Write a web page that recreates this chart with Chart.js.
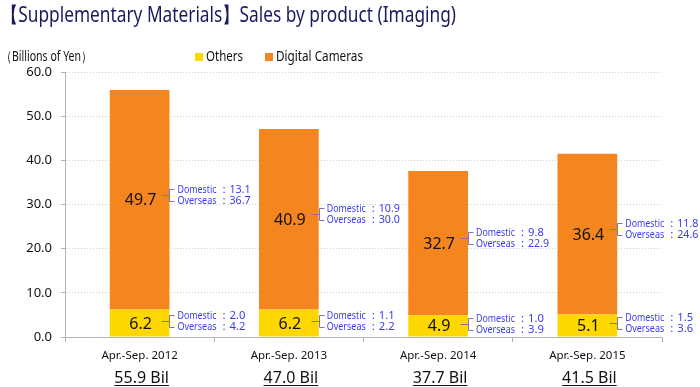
<!DOCTYPE html>
<html>
<head>
<meta charset="utf-8">
<script src="https://cdn.jsdelivr.net/npm/chart.js@4.4.1/dist/chart.umd.min.js"></script>
<style>
  html, body { margin: 0; background: #fff; }
  #wrap { width: 700px; height: 387px; }
</style>
</head>
<body>
<div id="wrap"><canvas id="chart" width="700" height="387"></canvas></div>
<script>
// ── Data ─────────────────────────────────────────────────────────────────────

const periods = ["Apr.-Sep. 2012", "Apr.-Sep. 2013", "Apr.-Sep. 2014", "Apr.-Sep. 2015"];
const others = [6.2, 6.2, 4.9, 5.1];
const cameras = [49.7, 40.9, 32.7, 36.4];
const othersDomestic = ["2.0", "1.1", "1.0", "1.5"];
const othersOverseas = ["4.2", "2.2", "3.9", "3.6"];
const camerasDomestic = ["13.1", "10.9", "9.8", "11.8"];
const camerasOverseas = ["36.7", "30.0", "22.9", "24.6"];
const totals = ["55.9 Bil", "47.0 Bil", "37.7 Bil", "41.5 Bil"];
const yTicks = [0, 10, 20, 30, 40, 50, 60];

const FONT = "'Noto Sans', 'DejaVu Sans', sans-serif";
const YELLOW = "#ffd700";
const ORANGE = "#f5861f";
const NOTE_BLUE = "#3a3af0";
const BRACKET = "#8a70a8";

// draw text squeezed to a given width (the original uses a narrower face)
function fillToWidth(ctx, text, x, y, width) {
  const sx = width / ctx.measureText(text).width;
  ctx.save();
  ctx.translate(x, y);
  ctx.scale(sx, 1);
  ctx.fillText(text, 0, 0);
  ctx.restore();
}

// ── Overlay: title, legend, in-bar values, brackets, totals ─────────────────

const overlay = {
  id: "overlay",
  afterDraw(chart) {
    const { ctx } = chart;
    ctx.save();
    ctx.textBaseline = "middle";
    ctx.textAlign = "left";

    // title
    ctx.fillStyle = "#1a1a60";
    ctx.font = `21px ${FONT}`;
    fillToWidth(ctx, "【Supplementary Materials】Sales by product (Imaging)", 1, 16, 455);

    // unit label
    ctx.fillStyle = "#111";
    ctx.font = `13.5px ${FONT}`;
    fillToWidth(ctx, "（Billions of Yen）", 1, 57, 91);

    // legend
    const legend = [["Others", YELLOW, 195, 37], ["Digital Cameras", ORANGE, 265, 87]];
    legend.forEach(([name, col, x, w]) => {
      ctx.fillStyle = col;
      ctx.fillRect(x, 53, 8, 8);
      ctx.fillStyle = "#111";
      fillToWidth(ctx, name, x + 11, 57.5, w);
    });

    const metaO = chart.getDatasetMeta(0);
    const metaC = chart.getDatasetMeta(1);

    periods.forEach((p, i) => {
      const bo = metaO.data[i];
      const bc = metaC.data[i];
      const right = bo.x + bo.width / 2;
      const midO = (bo.y + bo.base) / 2;
      const midC = (bc.y + bc.base) / 2;

      // values inside bars
      ctx.fillStyle = "#111";
      ctx.font = `16px ${FONT}`;
      ctx.textAlign = "center";
      ctx.fillText(others[i].toFixed(1), bo.x + 1, midO + 1);
      ctx.fillText(cameras[i].toFixed(1), bc.x + 1, midC + 1);

      // domestic / overseas brackets
      drawNote(ctx, right, midC - 5, camerasDomestic[i], camerasOverseas[i]);
      drawNote(ctx, right, midO - 2, othersDomestic[i], othersOverseas[i]);

      // totals under category labels
      ctx.fillStyle = "#111";
      ctx.font = `16px ${FONT}`;
      ctx.textAlign = "center";
      ctx.textBaseline = "alphabetic";
      ctx.fillText(totals[i], bo.x + 2, 383);
      const w = ctx.measureText(totals[i]).width;
      ctx.strokeStyle = "#111";
      ctx.lineWidth = 1;
      ctx.beginPath();
      ctx.moveTo(bo.x + 2 - w / 2, 385.5);
      ctx.lineTo(bo.x + 2 + w / 2, 385.5);
      ctx.stroke();
      ctx.textBaseline = "middle";
    });
    ctx.restore();
  }
};

function drawNote(ctx, right, y, dom, ovs) {
  const bx = Math.round(right) + 0.5;
  const yc = Math.round(y) + 0.5;
  ctx.strokeStyle = BRACKET;
  ctx.lineWidth = 1;
  ctx.beginPath();
  ctx.moveTo(bx - 8, yc);
  ctx.lineTo(bx, yc);
  ctx.moveTo(bx + 5, yc - 6);
  ctx.lineTo(bx, yc - 6);
  ctx.lineTo(bx, yc + 6);
  ctx.lineTo(bx + 5, yc + 6);
  ctx.stroke();

  ctx.fillStyle = NOTE_BLUE;
  ctx.font = `11.5px ${FONT}`;
  ctx.textAlign = "left";
  const tx = right + 8;
  fillToWidth(ctx, "Domestic", tx, y - 5.5, 39);
  fillToWidth(ctx, "Overseas", tx, y + 5.5, 39);
  ctx.fillText(":", tx + 45, y - 5.5);
  ctx.fillText(":", tx + 45, y + 5.5);
  fillToWidth(ctx, dom, tx + 52, y - 5.5, dom.length * 5.3);
  fillToWidth(ctx, ovs, tx + 52, y + 5.5, ovs.length * 5.3);
}

// ── Chart ────────────────────────────────────────────────────────────────────

new Chart(document.getElementById("chart"), {
  type: "bar",
  data: {
    labels: periods,
    datasets: [
      { label: "Others", data: others, backgroundColor: YELLOW },
      { label: "Digital Cameras", data: cameras, backgroundColor: ORANGE }
    ]
  },
  options: {
    responsive: false,
    animation: false,
    categoryPercentage: 1,
    barPercentage: 0.4,
    layout: { padding: { top: 72, right: 38, left: 0, bottom: 0 } },
    plugins: { legend: { display: false }, tooltip: { enabled: false } },
    scales: {
      x: {
        stacked: true,
        grid: { drawOnChartArea: false, tickLength: 5, color: "#b4b4b4" },
        border: { color: "#b4b4b4" },
        ticks: { color: "#111", font: { family: FONT, size: 11.5 }, padding: 7, maxRotation: 0 },
        afterFit: s => { s.height = 50; }
      },
      y: {
        stacked: true,
        min: 0,
        max: 60,
        afterBuildTicks: s => { s.ticks = yTicks.map(v => ({ value: v })); },
        grid: { color: "#cfcfcf", tickLength: 4, tickColor: "#b4b4b4" },
        border: { color: "#b4b4b4", dash: [1, 2] },
        ticks: { color: "#111", font: { family: FONT, size: 13 }, padding: 9, callback: v => v.toFixed(1) },
        afterFit: s => { s.width = 65; }
      }
    }
  },
  plugins: [overlay]
});
</script>
</body>
</html>
